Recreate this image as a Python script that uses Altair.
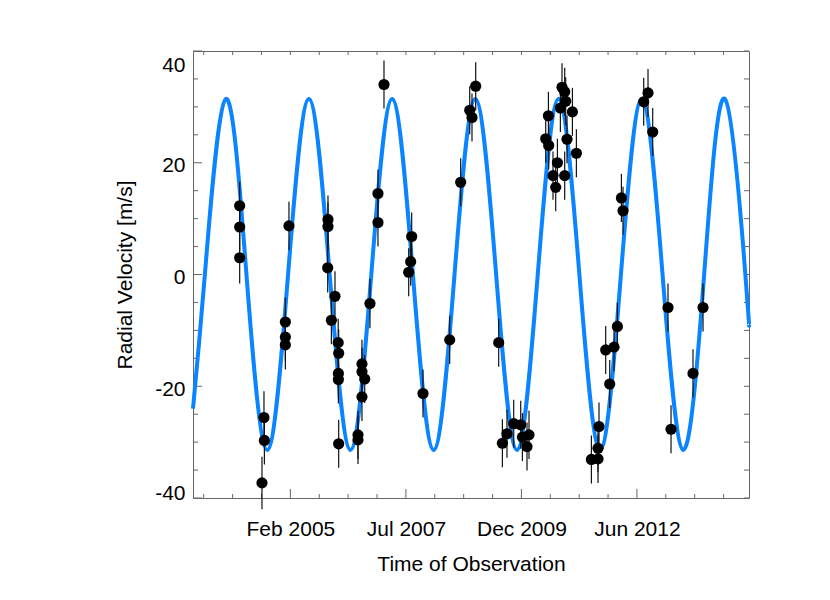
import altair as alt
import pandas as pd

# ---- observations (decimal year, radial velocity m/s, error m/s) ----
obs_year = [2004.029, 2004.029, 2004.029, 2004.500, 2004.542, 2004.551,
            2004.994, 2004.994, 2004.994, 2005.070, 2005.888, 2005.894,
            2005.894, 2005.966, 2006.042, 2006.110, 2006.114, 2006.114,
            2006.120, 2006.120, 2006.528, 2006.528, 2006.612, 2006.612,
            2006.612, 2006.670, 2006.781, 2006.950, 2006.950, 2007.077,
            2007.599, 2007.641, 2007.662, 2007.901, 2008.465, 2008.697,
            2008.888, 2008.936, 2009.014, 2009.500, 2009.578, 2009.675,
            2009.817, 2009.965, 2010.001, 2010.098, 2010.140, 2010.493,
            2010.550, 2010.556, 2010.647, 2010.704, 2010.740, 2010.803,
            2010.837, 2010.894, 2010.894, 2010.915, 2010.943, 2011.057,
            2011.141, 2011.458, 2011.598, 2011.598, 2011.619, 2011.760,
            2011.845, 2011.936, 2012.007, 2012.092, 2012.126, 2012.563,
            2012.654, 2012.753, 2013.076, 2013.140, 2013.604, 2013.816]
obs_rv = [12.3, 8.5, 3.0, -37.3, -25.6, -29.7,
          -8.5, -11.2, -12.6, 8.7, 1.2, 9.85,
          8.6, -8.2, -3.9, -12.2, -17.7, -18.8,
          -14.1, -30.3, -28.7, -29.6, -16.0, -17.4,
          -21.9, -18.7, -5.2, 14.5, 9.3, 34.0,
          0.4, 2.3, 6.8, -21.3, -11.7, 16.5,
          29.4, 28.1, 33.7, -12.2, -30.2, -28.5,
          -26.7, -26.9, -29.1, -30.8, -28.7, 24.3,
          28.4, 23.1, 17.7, 15.6, 20.0, 29.8,
          33.5, 32.7, 17.7, 31.0, 24.2, 29.1,
          21.7, -33.1, -33.0, -31.1, -27.2, -13.5,
          -19.6, -13.0, -9.3, 13.7, 11.4, 30.9,
          32.5, 25.5, -5.9, -27.7, -17.7, -5.9]
obs_err = [4.3, 4.3, 4.6, 4.7, 4.7, 4.3,
           4.4, 4.3, 4.4, 4.3, 4.4, 4.3,
           4.3, 4.3, 4.5, 4.3, 4.3, 4.3,
           4.3, 4.3, 4.3, 4.3, 4.3, 4.3,
           4.3, 4.3, 4.4, 4.3, 4.3, 4.3,
           4.3, 4.3, 4.3, 4.3, 4.3, 4.3,
           4.3, 4.3, 4.3, 4.3, 4.3, 4.3,
           4.3, 4.3, 4.3, 4.3, 4.3, 4.3,
           4.3, 4.3, 4.3, 4.3, 4.3, 4.3,
           4.3, 4.3, 4.3, 4.3, 4.3, 4.3,
           4.3, 4.3, 4.3, 4.3, 4.3, 4.3,
           4.3, 4.3, 4.3, 4.3, 4.3, 4.3,
           4.3, 4.3, 4.3, 4.3, 4.3, 4.3]

# ---- model curve: ends, zero crossings, peaks, troughs ----
curve_year = [2003.043, 2003.294, 2003.733, 2004.172, 2004.612, 2005.051,
              2005.491, 2005.930, 2006.370, 2006.809, 2007.249, 2007.688,
              2008.127, 2008.567, 2009.006, 2009.446, 2009.885, 2010.325,
              2010.764, 2011.204, 2011.643, 2012.082, 2012.522, 2012.961,
              2013.401, 2013.840, 2014.280, 2014.710, 2014.787]
curve_rv = [-24.0, 0.0, 31.4, 0.0, -31.4, 0.0,
            31.4, 0.0, -31.4, 0.0, 31.4, 0.0,
            -31.4, 0.0, 31.4, 0.0, -31.4, 0.0,
            31.4, 0.0, -31.4, 0.0, 31.4, 0.0,
            -31.4, 0.0, 31.4, 0.0, -9.0]

# ---- axis ticks and labels ----
label_years = [2005.10, 2007.54, 2009.98, 2012.42]
label_text = ["Feb 2005", "Jul 2007", "Dec 2009", "Jun 2012"]
minor_years = [2003.27, 2003.88, 2004.49, 2005.71, 2006.32, 2006.93,
               2008.15, 2008.76, 2009.37, 2010.59, 2011.20, 2011.81,
               2013.03, 2013.64, 2014.25]
y_major = [-40, -20, 0, 20, 40]
y_minor = [-35, -30, -25, -15, -10, -5, 5, 10, 15, 25, 30, 35]

X_DOMAIN = [2003.043, 2014.787]
Y_DOMAIN = [-40, 40]
W, H = 556, 447
FONT = "Liberation Sans"
FRAME = "#666666"

obs = pd.DataFrame({"t": obs_year, "rv": obs_rv, "err": obs_err})
curve = pd.DataFrame({"t": curve_year, "rv": curve_rv})
xmaj = pd.DataFrame({"t": label_years})
xmin = pd.DataFrame({"t": minor_years})
xall = pd.DataFrame({"t": sorted(label_years + minor_years)})
ymaj = pd.DataFrame({"rv": y_major})
ymin = pd.DataFrame({"rv": y_minor})
yall = pd.DataFrame({"rv": sorted(y_major + y_minor)})

step = round(label_years[1] - label_years[0], 4)
label_expr = ("[" + ",".join(f"'{s}'" for s in label_text) + "]"
              + f"[round((datum.value - {label_years[0]}) / {step})]")

x_axis = alt.Axis(values=label_years, labelExpr=label_expr, ticks=False,
                  domain=False, grid=False, labelPadding=20, labelFontSize=21,
                  labelFlush=False, labelOverlap=False,
                  title="Time of Observation", titleFontSize=21, titlePadding=14)
y_axis = alt.Axis(values=y_major, labelExpr="'' + datum.value", ticks=False,
                  domain=False, grid=False, labelPadding=8, labelFontSize=21,
                  labelBaseline={"condition": {"test": "datum.value == 40", "value": "top"},
                                 "value": "middle"},
                  labelOffset={"condition": {"test": "datum.value == -40", "value": -5},
                               "value": 3},
                  title="Radial Velocity [m/s]", titleFontSize=21, titlePadding=19)

xs = alt.Scale(domain=X_DOMAIN, nice=False, zero=False)
ys = alt.Scale(domain=Y_DOMAIN, nice=False, zero=False)


def X(f):
    return alt.X(f"{f}:Q", scale=xs, axis=x_axis)


def Y(f):
    return alt.Y(f"{f}:Q", scale=ys, axis=y_axis)


tick = dict(color=FRAME, strokeWidth=1)
left_major = alt.Chart(ymaj).mark_rule(**tick).encode(y=Y("rv"), x=alt.value(0), x2=alt.value(9))
left_minor = alt.Chart(ymin).mark_rule(**tick).encode(y=Y("rv"), x=alt.value(0), x2=alt.value(5))
right_t = alt.Chart(yall).mark_rule(**tick).encode(y=Y("rv"), x=alt.value(W), x2=alt.value(W - 5))
bot_major = alt.Chart(xmaj).mark_rule(**tick).encode(x=X("t"), y=alt.value(H), y2=alt.value(H - 9))
bot_minor = alt.Chart(xmin).mark_rule(**tick).encode(x=X("t"), y=alt.value(H), y2=alt.value(H - 4))
top_t = alt.Chart(xall).mark_rule(**tick).encode(x=X("t"), y=alt.value(0), y2=alt.value(4))

line = alt.Chart(curve).mark_line(color="#0A84FF", strokeWidth=4, interpolate="natural").encode(
    x=X("t"), y=Y("rv"))

bars = alt.Chart(obs).transform_calculate(
    lo="datum.rv - datum.err", hi="datum.rv + datum.err"
).mark_rule(color="#111111", strokeWidth=1.2).encode(x=X("t"), y=Y("lo"), y2=alt.Y2("hi:Q"))

pts = alt.Chart(obs).mark_circle(size=125, color="black", opacity=1).encode(x=X("t"), y=Y("rv"))

chart = alt.layer(left_major, left_minor, right_t, bot_major, bot_minor, top_t,
                  line, bars, pts).properties(
    width=W, height=H,
    autosize=alt.AutoSizeParams(type="none"),
    padding={"left": 185, "top": 43, "right": 60, "bottom": 90},
    background="white",
).configure_view(stroke=FRAME, strokeWidth=1).configure_axis(
    labelFont=FONT, titleFont=FONT, labelColor="black", titleColor="black",
    titleFontWeight="normal")

chart.save("out.html", embed_options={"renderer": "svg", "actions": False})
